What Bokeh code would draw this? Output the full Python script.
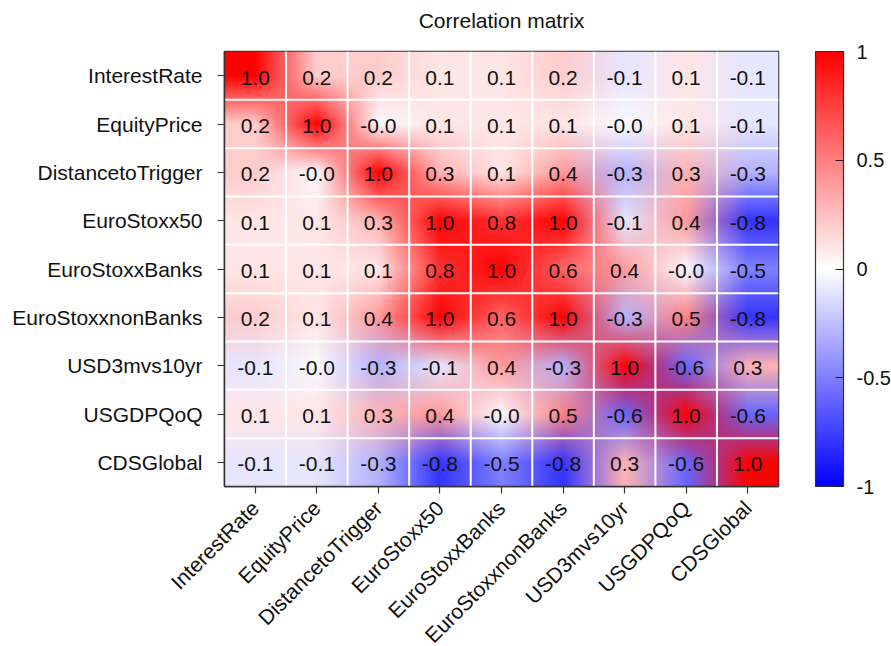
import numpy as np
from bokeh.plotting import figure
from bokeh.models import (FactorRange, ColumnDataSource, LinearColorMapper, ColorBar,
                          FixedTicker, LinearAxis)
from bokeh.embed import file_html
from bokeh.resources import INLINE
from bokeh.core.properties import value

# ---------------- data ----------------
title_text = "Correlation matrix"
variables = ["InterestRate", "EquityPrice", "DistancetoTrigger", "EuroStoxx50",
             "EuroStoxxBanks", "EuroStoxxnonBanks", "USD3mvs10yr", "USGDPQoQ", "CDSGlobal"]

row_InterestRate      = [1.0, 0.2, 0.2, 0.1, 0.1, 0.2, -0.1, 0.1, -0.1]
row_EquityPrice       = [0.2, 1.0, -0.02, 0.1, 0.1, 0.1, -0.02, 0.1, -0.1]
row_DistancetoTrigger = [0.2, -0.02, 1.0, 0.3, 0.1, 0.4, -0.3, 0.3, -0.3]
row_EuroStoxx50       = [0.1, 0.1, 0.3, 1.0, 0.8, 1.0, -0.1, 0.4, -0.8]
row_EuroStoxxBanks    = [0.1, 0.1, 0.1, 0.8, 1.0, 0.6, 0.4, -0.02, -0.5]
row_EuroStoxxnonBanks = [0.2, 0.1, 0.4, 1.0, 0.6, 1.0, -0.3, 0.5, -0.8]
row_USD3mvs10yr       = [-0.1, -0.02, -0.3, -0.1, 0.4, -0.3, 1.0, -0.6, 0.3]
row_USGDPQoQ          = [0.1, 0.1, 0.3, 0.4, -0.02, 0.5, -0.6, 1.0, -0.6]
row_CDSGlobal         = [-0.1, -0.1, -0.3, -0.8, -0.5, -0.8, 0.3, -0.6, 1.0]

cbar_ticks = [-1, -0.5, 0, 0.5, 1]
cbar_labels = ["-1", "-0.5", "0", "0.5", "1"]

rows = [row_InterestRate, row_EquityPrice, row_DistancetoTrigger, row_EuroStoxx50,
        row_EuroStoxxBanks, row_EuroStoxxnonBanks, row_USD3mvs10yr, row_USGDPQoQ, row_CDSGlobal]
corr = np.array(rows, dtype=float)
n = len(variables)

FONT = "Liberation Sans"
FRAME_W, FRAME_H = 554, 435


def bwr(v):
    v = np.clip(np.asarray(v, dtype=float), -1, 1)
    r = np.where(v >= 0, 1.0, 1.0 + v)
    g = 1.0 - np.abs(v)
    b = np.where(v <= 0, 1.0, 1.0 - v)
    return np.stack([r, g, b], axis=-1) * 255.0


palette = ["#%02x%02x%02x" % tuple(int(round(c)) for c in bwr(t)) for t in np.linspace(-1, 1, 256)]

# smooth (bilinear) rendering of the cell colours, bottom row first
cell_rgb = bwr(corr)[::-1]
u = np.clip((np.arange(FRAME_W) + 0.5) / FRAME_W * n - 0.5, 0, n - 1)
w = np.clip((np.arange(FRAME_H) + 0.5) / FRAME_H * n - 0.5, 0, n - 1)
i0 = np.floor(u).astype(int); i1 = np.minimum(i0 + 1, n - 1); tu = (u - i0)[None, :, None]
j0 = np.floor(w).astype(int); j1 = np.minimum(j0 + 1, n - 1); tv = (w - j0)[:, None, None]
c00 = cell_rgb[j0][:, i0]; c01 = cell_rgb[j0][:, i1]
c10 = cell_rgb[j1][:, i0]; c11 = cell_rgb[j1][:, i1]
rgb = (c00 * (1 - tu) + c01 * tu) * (1 - tv) + (c10 * (1 - tu) + c11 * tu) * tv
img = np.zeros((FRAME_H, FRAME_W), dtype=np.uint32)
view = img.view(dtype=np.uint8).reshape((FRAME_H, FRAME_W, 4))
view[..., :3] = np.round(rgb).astype(np.uint8)
view[..., 3] = 255

# ---------------- figure ----------------
p = figure(x_range=FactorRange(*variables), y_range=FactorRange(*reversed(variables)),
           frame_width=FRAME_W, frame_height=FRAME_H,
           min_border_left=224, min_border_top=51, min_border_bottom=160, min_border_right=113,
           output_backend="svg", toolbar_location=None)

xax = p.below[0]
yax = p.left[0]

p.image_rgba(image=[img], x=0, y=0, dw=n, dh=n)

bounds = list(range(1, n))
p.segment(x0=bounds, y0=[0] * len(bounds), x1=bounds, y1=[n] * len(bounds),
          line_color="white", line_width=2)
p.segment(x0=[0] * len(bounds), y0=bounds, x1=[n] * len(bounds), y1=bounds,
          line_color="white", line_width=2)

xs, ys, labels = [], [], []
for r, name_r in enumerate(variables):
    for c, name_c in enumerate(variables):
        xs.append(name_c); ys.append(name_r); labels.append("%.1f" % corr[r, c])
src = ColumnDataSource(dict(x=xs, y=ys, t=labels))
p.text(x="x", y="y", text="t", source=src, text_align="center", text_baseline="middle",
       text_font=value(FONT), text_font_size="21px", text_color="#111111", y_offset=2)

p.grid.visible = False
p.outline_line_color = "#333333"
p.outline_line_width = 1.5
p.background_fill_color = "white"

for ax in (xax, yax):
    ax.axis_line_color = "#333333"
    ax.axis_line_width = 1.5
    ax.major_tick_line_color = "#333333"
    ax.major_tick_line_width = 1.2
    ax.major_tick_in = 0
    ax.major_tick_out = 7
    ax.minor_tick_line_color = None
    ax.major_label_text_font = FONT
    ax.major_label_text_font_size = "21px"
    ax.major_label_text_color = "#111111"

yax.major_label_standoff = 15
xax.major_label_orientation = np.pi / 4
xax.major_label_standoff = 11

# title drawn as the label of an empty axis above the frame
top_axis = LinearAxis(ticker=FixedTicker(ticks=[]), axis_label=title_text,
                      axis_line_color=None, major_tick_line_color=None, minor_tick_line_color=None,
                      major_tick_out=0, major_tick_in=0, major_label_standoff=0,
                      axis_label_standoff=20, axis_label_text_font=FONT,
                      axis_label_text_font_size="21px", axis_label_text_font_style="normal",
                      axis_label_text_color="#111111")
p.add_layout(top_axis, "above")

mapper = LinearColorMapper(palette=palette, low=-1, high=1)
cb = ColorBar(color_mapper=mapper, ticker=FixedTicker(ticks=cbar_ticks),
              major_label_overrides=dict(zip(cbar_ticks, cbar_labels)),
              location=(37, 0),
              width=28, height=FRAME_H, margin=0, padding=0, label_standoff=13,
              major_tick_in=8, major_tick_out=0, major_tick_line_color="#222222",
              minor_tick_line_color=None, bar_line_color="#333333", bar_line_width=1.2,
              major_label_text_font=FONT, major_label_text_font_size="20px",
              major_label_text_color="#111111")
p.add_layout(cb, "right")

open("out.html", "w").write(file_html(p, INLINE))
